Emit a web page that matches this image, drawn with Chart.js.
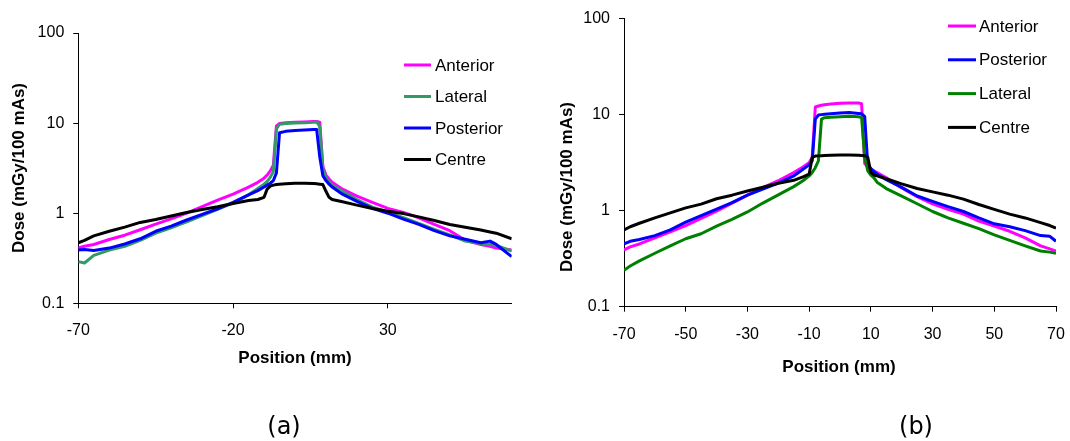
<!DOCTYPE html>
<html>
<head>
<meta charset="utf-8">
<script src="https://cdn.jsdelivr.net/npm/chart.js@4.4.1/dist/chart.umd.min.js"></script>
<style>
  html, body { margin: 0; padding: 0; background: #fff; }
  #page { position: relative; width: 1070px; height: 441px; overflow: hidden; }
  .panel { position: absolute; top: 0; width: 535px; height: 441px; }
  .tag {
    position: absolute; top: 412px; line-height: 28px;
    font: 24px "DejaVu Sans", sans-serif; color: #000;
    transform: translateX(-50%);
  }
</style>
</head>
<body>
<div id="page">
  <div class="panel" style="left:0"><canvas id="chartA" width="535" height="441"></canvas></div>
  <div class="panel" style="left:535px"><canvas id="chartB" width="535" height="441"></canvas></div>
  <div class="tag" style="left:284px">(a)</div>
  <div class="tag" style="left:916px">(b)</div>
</div>
<script>
// dose profiles, position in mm, dose in mGy per 100 mAs
const positionsA = [-70,-68,-65,-60,-55,-50,-45,-40,-35,-30,-25,-20,-15,-12,-10,-9,-8,-7,-6,-5,-3,0,3,6,7,8,9,10,11,12,15,20,25,30,35,40,45,50,55,60,63,65,70];
const anteriorA  = [0.41,0.43,0.45,0.51,0.57,0.655,0.755,0.865,1.0,1.18,1.4,1.63,1.95,2.2,2.45,2.65,2.95,3.4,9.3,9.9,10.1,10.2,10.3,10.4,10.4,10.2,3.3,2.65,2.4,2.2,1.88,1.55,1.32,1.13,1.02,0.89,0.75,0.64,0.5,0.45,0.43,0.41,0.39];
const lateralA   = [0.29,0.28,0.34,0.39,0.43,0.5,0.6,0.69,0.8,0.94,1.1,1.3,1.6,1.88,2.1,2.25,2.5,2.9,8.6,9.7,9.9,10.0,10.1,10.2,10.3,9.2,3.1,2.45,2.25,2.05,1.78,1.42,1.17,1.03,0.89,0.77,0.66,0.575,0.49,0.46,0.45,0.44,0.38];
const posteriorA = [0.39,0.395,0.385,0.41,0.455,0.52,0.63,0.72,0.84,0.97,1.12,1.32,1.6,1.78,1.95,2.05,2.15,2.3,2.8,7.8,8.1,8.3,8.4,8.5,8.5,4.2,2.6,2.3,2.1,1.95,1.65,1.35,1.13,1.0,0.86,0.75,0.64,0.56,0.515,0.47,0.49,0.45,0.33];
const centreA    = [0.47,0.5,0.56,0.63,0.7,0.79,0.85,0.93,1.02,1.1,1.18,1.28,1.38,1.42,1.5,1.85,2.0,2.05,2.08,2.1,2.12,2.15,2.15,2.13,2.12,2.1,2.08,1.75,1.5,1.42,1.35,1.23,1.13,1.05,0.99,0.91,0.83,0.75,0.7,0.65,0.62,0.6,0.52];

const positionsB = [-70,-68,-65,-60,-55,-50,-45,-40,-35,-30,-25,-20,-15,-12,-10,-9,-8,-7,-6,-5,-3,0,3,6,7,8,9,10,11,12,15,20,25,30,35,40,45,50,55,60,65,68,70];
const anteriorB  = [0.39,0.42,0.45,0.52,0.6,0.7,0.83,0.99,1.2,1.45,1.74,2.05,2.5,2.85,3.15,3.6,12.0,12.3,12.5,12.7,12.9,13.1,13.2,13.2,13.0,3.1,2.85,2.7,2.6,2.5,2.2,1.72,1.4,1.18,1.03,0.92,0.78,0.69,0.61,0.52,0.43,0.4,0.38];
const posteriorB = [0.45,0.48,0.5,0.55,0.63,0.76,0.89,1.04,1.21,1.45,1.68,1.94,2.3,2.7,3.0,3.3,9.0,9.9,10.0,10.1,10.2,10.4,10.5,10.3,10.2,9.6,3.0,2.75,2.55,2.4,2.1,1.75,1.42,1.25,1.1,0.98,0.84,0.73,0.68,0.62,0.55,0.54,0.48];
const lateralB   = [0.24,0.265,0.3,0.36,0.43,0.51,0.575,0.69,0.81,0.97,1.2,1.46,1.78,2.05,2.3,2.5,2.8,3.3,9.0,9.3,9.4,9.5,9.6,9.5,9.3,3.6,2.6,2.35,2.2,1.98,1.7,1.42,1.18,0.98,0.84,0.74,0.65,0.56,0.49,0.43,0.38,0.37,0.36];
const centreB    = [0.63,0.68,0.74,0.84,0.95,1.07,1.17,1.33,1.45,1.6,1.75,1.93,2.07,2.25,2.4,3.6,3.7,3.72,3.74,3.76,3.78,3.8,3.8,3.78,3.76,3.74,3.6,2.5,2.35,2.3,2.15,1.9,1.7,1.57,1.45,1.32,1.16,1.03,0.92,0.84,0.75,0.7,0.66];

const xTicksA = [-70, -20, 30];
const xTicksB = [-70, -50, -30, -10, 10, 30, 50, 70];
const doseTicks = [0.1, 1, 10, 100];

const FONT = '"Liberation Sans", Arial, sans-serif';

// axis titles and the legend box are painted by hand
const figureText = {
  id: 'figureText',
  afterDraw(chart, args, opts) {
    const ctx = chart.ctx;
    ctx.save();
    ctx.fillStyle = '#000';
    ctx.textBaseline = 'middle';
    ctx.textAlign = 'center';
    ctx.font = 'bold 17px ' + FONT;
    ctx.fillText(opts.xTitle, opts.xTitleAt[0], opts.xTitleAt[1]);
    ctx.save();
    ctx.translate(opts.yTitleAt[0], opts.yTitleAt[1]);
    ctx.rotate(-Math.PI / 2);
    ctx.fillText(opts.yTitle, 0, 0);
    ctx.restore();

    const lg = opts.legend;
    ctx.textAlign = 'left';
    ctx.font = '17px ' + FONT;
    chart.data.datasets.forEach((ds, i) => {
      const y = lg.top + i * lg.step;
      ctx.strokeStyle = ds.borderColor;
      ctx.lineWidth = 3;
      ctx.beginPath();
      ctx.moveTo(lg.lineFrom, y);
      ctx.lineTo(lg.lineTo, y);
      ctx.stroke();
      ctx.fillStyle = '#000';
      ctx.fillText(ds.label, lg.textX, y + 1);
    });
    ctx.restore();
  }
};

function series(label, color, xs, ys, order) {
  return {
    label,
    data: xs.map((x, i) => ({ x, y: ys[i] })),
    borderColor: color,
    backgroundColor: color,
    borderWidth: 3,
    pointRadius: 0,
    tension: 0,
    borderJoinStyle: 'round',
    order
  };
}

function makeChart(id, datasets, xTicks, box, text) {
  return new Chart(document.getElementById(id), {
    type: 'line',
    data: { datasets },
    options: {
      responsive: false,
      animation: false,
      layout: { padding: { left: 0, right: box.right, top: box.top, bottom: 0 } },
      plugins: { legend: { display: false }, tooltip: { enabled: false }, figureText: text },
      scales: {
        x: {
          type: 'linear', min: -70, max: 70,
          afterBuildTicks: s => { s.ticks = xTicks.map(v => ({ value: v })); },
          afterFit: s => {
            s.height = box.xHeight;
            // end labels may hang into the margins
            s.paddingLeft = 0;
            s.paddingRight = 0;
          },
          grid: { drawOnChartArea: false, color: '#000', tickLength: 5 },
          border: { display: true, color: '#000', width: 1 },
          ticks: { color: '#000', font: { family: FONT, size: 16 }, padding: 13, maxRotation: 0, autoSkip: false }
        },
        y: {
          type: 'logarithmic', min: 0.1, max: 100,
          afterBuildTicks: s => { s.ticks = doseTicks.map(v => ({ value: v })); },
          afterFit: s => { s.width = box.yWidth; },
          grid: { drawOnChartArea: false, color: '#000', tickLength: 5 },
          border: { display: true, color: '#000', width: 1 },
          ticks: { color: '#000', font: { family: FONT, size: 16 }, padding: 9, callback: v => String(v) }
        }
      }
    },
    plugins: [figureText]
  });
}

makeChart('chartA', [
  series('Anterior', '#ff00ff', positionsA, anteriorA, 4),
  series('Lateral', '#339966', positionsA, lateralA, 3),
  series('Posterior', '#0000ff', positionsA, posteriorA, 2),
  series('Centre', '#000000', positionsA, centreA, 1)
], xTicksA,
  { right: 23.3, top: 33, xHeight: 137.7, yWidth: 78.3 },
  { xTitle: 'Position (mm)', xTitleAt: [295, 358], yTitle: 'Dose (mGy/100 mAs)', yTitleAt: [19, 168],
    legend: { top: 65, step: 31.5, lineFrom: 404, lineTo: 431, textX: 435 } });

makeChart('chartB', [
  series('Anterior', '#ff00ff', positionsB, anteriorB, 4),
  series('Posterior', '#0000ff', positionsB, posteriorB, 3),
  series('Lateral', '#008000', positionsB, lateralB, 2),
  series('Centre', '#000000', positionsB, centreB, 1)
], xTicksB,
  { right: 14, top: 18.3, xHeight: 134.3, yWidth: 89 },
  { xTitle: 'Position (mm)', xTitleAt: [304, 367], yTitle: 'Dose (mGy/100 mAs)', yTitleAt: [32, 187],
    legend: { top: 26, step: 33.8, lineFrom: 413, lineTo: 441, textX: 444 } });
</script>
</body>
</html>
